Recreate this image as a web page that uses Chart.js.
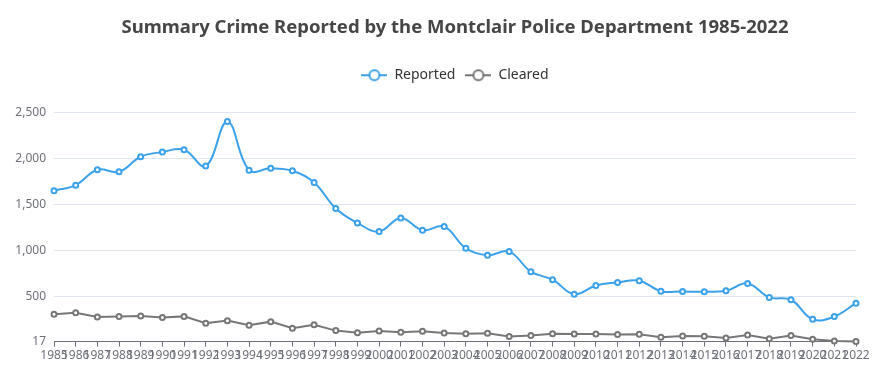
<!DOCTYPE html>
<html>
<head>
<meta charset="utf-8">
<script src="https://cdn.jsdelivr.net/npm/chart.js@4/dist/chart.umd.min.js"></script>
<style>
  html, body { margin: 0; padding: 0; background: #fff; overflow: hidden; }
  #wrap { width: 910px; height: 377px; position: relative; }
</style>
</head>
<body>
<div id="wrap"><canvas id="crimeChart"></canvas></div>
<script>
const years = [
  '1985', '1986', '1987', '1988', '1989', '1990', '1991', '1992', '1993', '1994',
  '1995', '1996', '1997', '1998', '1999', '2000', '2001', '2002', '2003', '2004',
  '2005', '2006', '2007', '2008', '2009', '2010', '2011', '2012', '2013', '2014',
  '2015', '2016', '2017', '2018', '2019', '2020', '2021', '2022'
];

const reported = [
  1650, 1710, 1877, 1855, 2018, 2069, 2094, 1917, 2398, 1873,
  1892, 1866, 1740, 1458, 1301, 1208, 1356, 1222, 1262, 1027,
  951, 991, 774, 687, 530, 625, 657, 676, 563, 560,
  556, 567, 647, 495, 470, 259, 288, 433
];

const cleared = [
  312, 330, 283, 290, 293, 279, 290, 215, 244, 193,
  233, 161, 200, 136, 114, 131, 117, 128, 110, 103,
  107, 71, 82, 103, 99, 99, 93, 96, 63, 77,
  74, 56, 88, 49, 82, 42, 24, 17
];

const yTicks = [17, 500, 1000, 1500, 2000, 2500];

const BLUE = '#3ba1ea';
const GREY = '#777777';
const AXIS = '#6e7079';

function legendIcon(color) {
    const c = document.createElement('canvas');
    c.width = 26;
    c.height = 14;
    const g = c.getContext('2d');
    g.strokeStyle = color;
    g.lineWidth = 2;
    g.beginPath();
    g.moveTo(0, 7);
    g.lineTo(26, 7);
    g.stroke();
    g.fillStyle = '#fff';
    g.beginPath();
    g.arc(13, 7, 5, 0, Math.PI * 2);
    g.fill();
    g.stroke();
    return c;
}

// extra room under the legend, before the plot
const legendGap = {
    id: 'legendGap',
    beforeInit(chart) {
        const fit = chart.legend.fit;
        chart.legend.fit = function () {
            fit.bind(this)();
            this.height += 20;
        };
    }
};

const ctx = document.getElementById('crimeChart').getContext('2d');
new Chart(ctx, {
    type: 'line',
    data: {
        labels: years,
        datasets: [
            {
                label: 'Reported',
                data: reported,
                borderColor: BLUE,
                backgroundColor: '#fff',
                pointBackgroundColor: '#fff',
                pointBorderColor: BLUE,
                borderWidth: 2,
                pointRadius: 2.5,
                pointBorderWidth: 2,
                tension: 0.4,
                clip: 8,
                legendIcon: legendIcon(BLUE)
            },
            {
                label: 'Cleared',
                data: cleared,
                borderColor: GREY,
                backgroundColor: '#fff',
                pointBackgroundColor: '#fff',
                pointBorderColor: GREY,
                borderWidth: 2,
                pointRadius: 2.5,
                pointBorderWidth: 2,
                tension: 0,
                clip: 8,
                legendIcon: legendIcon(GREY)
            }
        ]
    },
    plugins: [legendGap],
    options: {
        responsive: true,
        maintainAspectRatio: false,
        animation: false,
        layout: {
            padding: { left: 0, right: 0, top: 0, bottom: 12 }
        },
        plugins: {
            title: {
                display: true,
                text: 'Summary Crime Reported by the Montclair Police Department 1985-2022',
                color: '#464646',
                font: { family: 'Noto Sans', size: 18.5, weight: 'bold' },
                padding: { top: 17, bottom: 19 }
            },
            legend: {
                display: true,
                labels: {
                    color: '#333',
                    font: { family: 'Noto Sans', size: 14 },
                    usePointStyle: true,
                    pointStyleWidth: 26,
                    boxHeight: 14,
                    padding: 10,
                    generateLabels: (chart) => chart.data.datasets.map((ds, i) => ({
                        text: ds.label,
                        pointStyle: ds.legendIcon,
                        fontColor: '#333',
                        datasetIndex: i,
                        hidden: false,
                        lineWidth: 0
                    }))
                }
            },
            tooltip: { enabled: false }
        },
        scales: {
            x: {
                offset: false,
                afterFit: (scale) => {
                    scale.paddingRight = 54;
                },
                grid: {
                    display: true,
                    drawOnChartArea: false,
                    drawTicks: true,
                    tickLength: 5,
                    color: AXIS
                },
                border: { display: true, color: AXIS, width: 1 },
                ticks: {
                    autoSkip: false,
                    maxRotation: 0,
                    minRotation: 0,
                    padding: 2,
                    color: AXIS,
                    font: { family: 'Noto Sans', size: 12 }
                }
            },
            y: {
                min: 17,
                max: 2500,
                afterBuildTicks: (axis) => {
                    axis.ticks = yTicks.map(v => ({ value: v }));
                },
                afterFit: (scale) => {
                    scale.width = 54;
                },
                grid: {
                    color: '#e0e6f1',
                    drawTicks: false
                },
                border: { display: false },
                ticks: {
                    padding: 8,
                    color: AXIS,
                    font: { family: 'Noto Sans', size: 12 },
                    callback: (v) => v.toLocaleString('en-US')
                }
            }
        }
    }
});
</script>
</body>
</html>
